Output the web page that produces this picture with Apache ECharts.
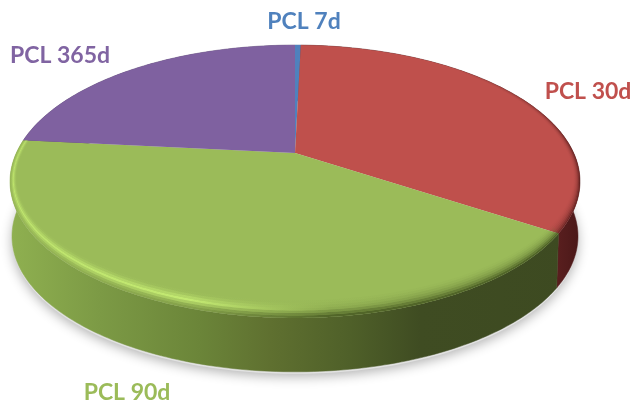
<!DOCTYPE html>
<html>
<head>
<meta charset="utf-8">
<style>
  html, body { margin: 0; padding: 0; background: #fff; }
  #main { width: 636px; height: 404px; }
</style>
<script src="https://cdn.jsdelivr.net/npm/echarts@6/dist/echarts.min.js"></script>
</head>
<body>
<div id="main"></div>
<script>
// slice data, clockwise from 12 o'clock
var categories = ['PCL 7d', 'PCL 30d', 'PCL 90d', 'PCL 365d']
var shares = [0.4, 33.8, 42.4, 23.4]

var colors = ['#4f81bd', '#bf504c', '#9bbb59', '#7f61a0']
var labelColors = ['#4f81bd', '#c0504d', '#9bbb59', '#8064a2']
var labelPos = [[304, 22], [588, 92], [127, 393], [60, 56]]

// perspective of the disc
var cx = 295
var cy = 153
var A = 278.7
var B = 130.5
var K = 0.209
var baseScale = 0.993
var baseDrop = 55

var total = shares.reduce(function (a, b) { return a + b }, 0)
var startAngles = []
shares.reduce(function (acc, v, i) {
  startAngles[i] = acc / total * 360
  return acc + v
}, 0)

function project (deg, r) {
  var t = deg * Math.PI / 180
  var u = r * Math.sin(t)
  var v = -r * Math.cos(t)
  var d = 1 - K * v
  return [cx + A * u / d, cy + B * v / d]
}

function arc (from, to, r) {
  var pts = []
  var n = Math.max(2, Math.ceil(Math.abs(to - from)))
  for (var i = 0; i <= n; i++) {
    pts.push(project(from + (to - from) * i / n, r))
  }
  return pts
}

function toBase (p) {
  return [cx + (p[0] - cx) * baseScale, cy + (p[1] - cy) * baseScale + baseDrop]
}

function sliceRange (i) {
  return [startAngles[i], startAngles[i] + shares[i] / total * 360]
}

function hGrad (stops) {
  return new echarts.graphic.LinearGradient(10, 0, 580, 0, stops.map(function (s) {
    return { offset: (s[0] - 10) / 570, color: s[1] }
  }), true)
}

var wallStops = [
  [[10, '#4f81bd'], [580, '#2c4a6e']],
  [[10, '#5c2020'], [553, '#5c2020'], [580, '#4a1818']],
  [[10, '#8fb050'], [100, '#7c9a45'], [200, '#6b8539'], [270, '#5f7030'], [350, '#4f6029'], [420, '#3f4c22'], [580, '#3d4a21']],
  [[10, '#5a4573'], [580, '#5a4573']]
]

function renderShadow () {
  var pts = arc(0, 360, 1).map(toBase).map(function (p) {
    return [p[0], p[1] + 2]
  })
  return {
    type: 'polygon',
    shape: { points: pts },
    style: { fill: '#e2e2e2', shadowBlur: 12, shadowColor: 'rgba(0,0,0,0.3)', shadowOffsetY: 3 }
  }
}

function renderWall (params) {
  var i = params.dataIndex
  var r = sliceRange(i)
  var topArc = arc(r[0], r[1], 1)
  var pts = topArc.concat(topArc.map(toBase).reverse())
  return {
    type: 'polygon',
    shape: { points: pts },
    style: { fill: hGrad(wallStops[i]), stroke: hGrad(wallStops[i]), lineWidth: 0.5 }
  }
}

function renderTop (params) {
  var i = params.dataIndex
  var r = sliceRange(i)
  var pts = [[cx, cy]].concat(arc(r[0], r[1], 1))
  return {
    type: 'polygon',
    shape: { points: pts },
    style: { fill: colors[i] }
  }
}

// rim: bands going inward from the disc edge, wide at the front and thin at the sides
var rimLight = [0.05, 0.2, 0.6, 1, 0.6, 0.25, 0.05]
var rimDark = [0.7, 0.5, 0.32, 0.2, 0.12, 0.06, 0.02]

function rimArc (from, to, t) {
  var pts = []
  var n = Math.max(2, Math.ceil(Math.abs(to - from)))
  for (var i = 0; i <= n; i++) {
    var deg = from + (to - from) * i / n
    var p = project(deg, 1 - 0.022 * t)
    var front = Math.max(0, -Math.cos(deg * Math.PI / 180))
    pts.push([p[0], p[1] - 13 * t * front])
  }
  return pts
}

function renderRim (params) {
  var i = params.dataIndex
  if (i === 0 || i === 3) return { type: 'group', children: [] }
  var r = sliceRange(i)
  var children = []
  var steps = rimLight.length
  for (var j = 0; j < steps; j++) {
    var pts = rimArc(r[0], r[1], j / steps).concat(rimArc(r[0], r[1], (j + 1) / steps).reverse())
    var lit = rimLight[j]
    var dark = rimDark[j]
    if (i === 2) {
      children.push({
        type: 'polygon',
        shape: { points: pts },
        style: {
          fill: hGrad([[10, 'rgba(200,240,115,' + lit * 0.8 + ')'], [190, 'rgba(205,245,120,' + lit + ')'], [330, 'rgba(205,245,120,' + lit * 0.2 + ')'], [420, 'rgba(205,245,120,0)'], [580, 'rgba(205,245,120,0)']])
        }
      })
    }
    children.push({
      type: 'polygon',
      shape: { points: pts },
      style: {
        fill: hGrad(i === 2
          ? [[10, 'rgba(50,65,20,' + dark * 0.05 + ')'], [200, 'rgba(50,65,20,' + dark * 0.35 + ')'], [330, 'rgba(50,65,20,' + dark + ')'], [580, 'rgba(50,65,20,' + dark + ')']]
          : [[10, 'rgba(60,15,15,0)'], [450, 'rgba(60,15,15,0)'], [540, 'rgba(60,15,15,' + dark * 0.6 + ')'], [580, 'rgba(60,15,15,' + dark + ')']])
      }
    })
  }
  return { type: 'group', children: children }
}

function layer (name, z, render, data) {
  return {
    type: 'custom',
    name: name,
    coordinateSystem: 'none',
    z: z,
    silent: true,
    animation: false,
    renderItem: render,
    data: data
  }
}

var sliceData = categories.map(function (c, i) {
  return { name: c, value: shares[i] }
})

var myChart = echarts.init(document.getElementById('main'))
myChart.setOption({
  animation: false,
  backgroundColor: '#fff',
  graphic: categories.map(function (c, i) {
    return {
      type: 'text',
      x: labelPos[i][0],
      y: labelPos[i][1],
      silent: true,
      style: {
        text: c,
        fill: labelColors[i],
        font: 'bold 23px Lato, "Open Sans", sans-serif',
        align: 'center',
        verticalAlign: 'middle'
      }
    }
  }),
  series: [
    layer('shadow', 1, renderShadow, [total]),
    layer('wall', 2, renderWall, sliceData),
    layer('top', 3, renderTop, sliceData),
    layer('rim', 4, renderRim, sliceData)
  ]
})
</script>
</body>
</html>
